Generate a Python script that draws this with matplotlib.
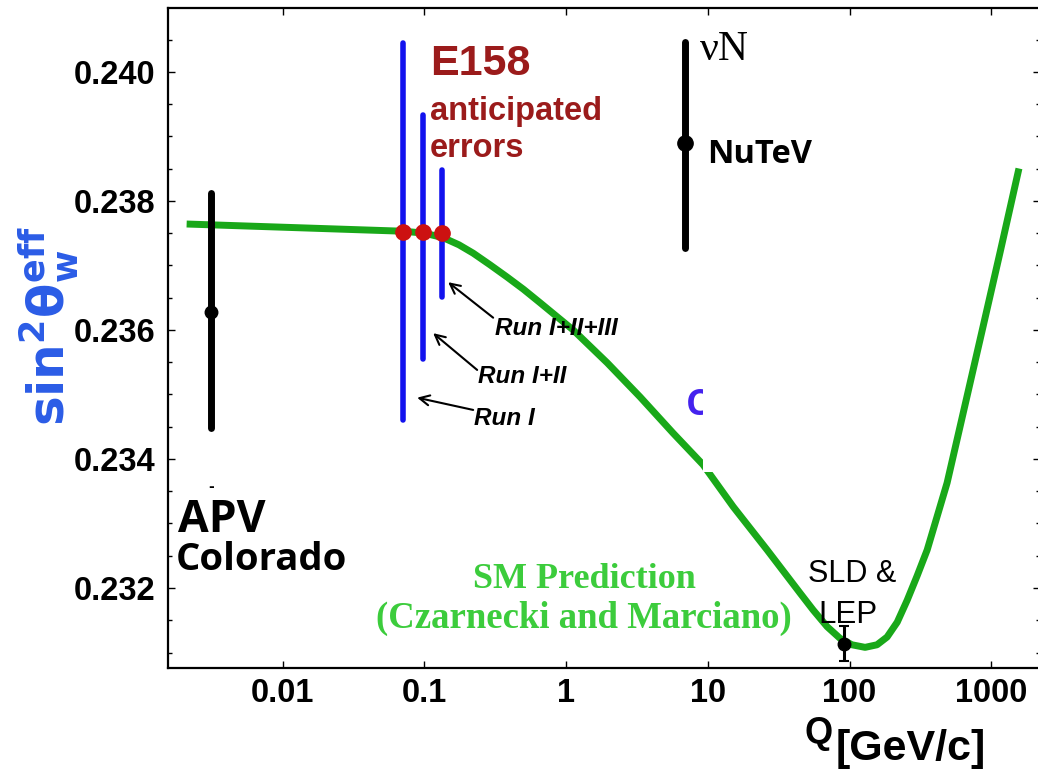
"""
Running weak mixing angle vs Q with E158 anticipated errors.
"""

import matplotlib
matplotlib.use('Agg')
import matplotlib.pyplot as plt
from matplotlib.patches import Rectangle
from matplotlib.ticker import FixedLocator, MultipleLocator, NullLocator

# SM running prediction (Czarnecki and Marciano)
sm_q = [0.00222, 0.0708, 0.1, 0.1355, 0.175, 0.2207, 0.29, 0.383, 0.5, 0.656,
        1.12, 1.95, 3.33, 5.69, 9.26, 15.1, 26.2, 44.8, 55.3, 69.5, 85.6,
        103.9, 128.7, 156.3, 184, 217, 255, 300, 353, 488, 676, 877, 1156,
        1549]
sm_s2w = [0.23764, 0.23753, 0.23750, 0.23743, 0.23732, 0.23719, 0.23701,
          0.23682, 0.23663, 0.23642, 0.23600, 0.23549, 0.23496, 0.23440,
          0.23391, 0.23326, 0.23259, 0.23192, 0.23166, 0.23140, 0.23122,
          0.23112, 0.23108, 0.23112, 0.23124, 0.23147, 0.23181, 0.23219,
          0.23259, 0.23363, 0.23498, 0.23606, 0.23721, 0.23845]

# measurements: Q, central value, lower end, upper end
apv = (0.00314, 0.23628, 0.23448, 0.23812)
nutev = (6.88, 0.23890, 0.23727, 0.24047)
sld_lep = (91.2, 0.23113, 0.23087, 0.23141)

# E158 anticipated errors
e158_q = [0.0711, 0.0984, 0.134]
e158_val = [0.23752, 0.23752, 0.23750]
e158_lo = [0.23460, 0.23555, 0.23651]
e158_hi = [0.24045, 0.23933, 0.23848]
e158_runs = ['Run I', 'Run I+II', 'Run I+II+III']

x_ticks = [0.01, 0.1, 1, 10, 100, 1000]
x_ticklabels = ['0.01', '0.1', '1', '10', '100', '1000']
y_ticks = [0.232, 0.234, 0.236, 0.238, 0.240]

fig = plt.figure(figsize=(10.38, 7.72), dpi=100)
ax = fig.add_axes([168 / 1038, 1 - 668 / 772, (1039.5 - 168) / 1038, 660 / 772])
ax.set_xscale('log')
ax.set_xlim(0.00155, 2190)
ax.set_ylim(0.23076, 0.24099)

green = '#19a819'
ax.plot(sm_q, sm_s2w, color=green, lw=5, solid_joinstyle='round', zorder=2)

# white patch covering part of the curve, with a clipped blue letter under it
ax.text(7.0, 0.23468, 'C', color='#4422ee', fontsize=26, fontweight='bold',
        family='Open Sans', ha='left', va='baseline', zorder=3)
ax.add_patch(Rectangle((9.26, 0.2338), 358.7 - 9.26, 0.23557 - 0.2338,
                       facecolor='white', edgecolor='none', zorder=4))

# APV, NuTeV, SLD/LEP
ax.vlines(apv[0], apv[2], apv[3], color='black', lw=5, capstyle='round', zorder=5)
ax.plot(apv[0], apv[1], 'o', color='black', ms=9, zorder=6)
ax.vlines(nutev[0], nutev[2], nutev[3], color='black', lw=5, capstyle='round', zorder=5)
ax.plot(nutev[0], nutev[1], 'o', color='black', ms=11, zorder=6)
ax.errorbar(sld_lep[0], sld_lep[1],
            yerr=[[sld_lep[1] - sld_lep[2]], [sld_lep[3] - sld_lep[1]]],
            fmt='o', color='black', ms=9, elinewidth=2.2, capsize=3.5,
            capthick=1.5, zorder=6)

# E158 bars and dots
ax.vlines(e158_q, e158_lo, e158_hi, color='#1212ee', lw=4, capstyle='round', zorder=5)
ax.plot(e158_q, e158_val, 'o', color='#cc1111', ms=11, zorder=6)

dark_red = '#9b1b1b'
ax.text(0.1097, 0.23995, 'E158', color=dark_red, fontsize=31, fontweight='bold',
        family='Liberation Sans', ha='left', va='baseline')
ax.text(0.1097, 0.23926, 'anticipated', color=dark_red, fontsize=23.5,
        fontweight='bold', family='Liberation Sans', ha='left', va='baseline')
ax.text(0.1097, 0.23868, 'errors', color=dark_red, fontsize=23.5,
        fontweight='bold', family='Liberation Sans', ha='left', va='baseline')

# run labels with arrows
run_text = [(0.2243, 0.23453), (0.2393, 0.23518), (0.3155, 0.23592)]
run_tail = [(0.2207, 0.23476), (0.2355, 0.23538), (0.3054, 0.23619)]
run_head = [(0.0888, 0.23495), (0.1152, 0.23595), (0.147, 0.23674)]
for name, txt, tail, head in zip(e158_runs, run_text, run_tail, run_head):
    ax.text(txt[0], txt[1], name, fontsize=17.5, fontweight='bold', style='italic',
            family='Liberation Sans', ha='left', va='baseline', zorder=7)
    ax.annotate('', xy=head, xytext=tail,
                arrowprops=dict(arrowstyle='->', color='black', lw=1.5,
                                mutation_scale=18, shrinkA=0, shrinkB=0))

ax.text(8.83, 0.24019, 'νN', fontsize=30, family='Liberation Serif',
        ha='left', va='baseline')
ax.text(9.89, 0.23859, 'NuTeV', fontsize=23.5, fontweight='bold',
        family='Open Sans', ha='left', va='baseline')

ax.text(0.00314, 0.23357, '-', fontsize=10, fontweight='bold',
        ha='center', va='center')
ax.text(0.00183, 0.23287, 'APV', fontsize=32, fontweight='bold',
        family='Open Sans', ha='left', va='baseline')
ax.text(0.00177, 0.23228, 'Colorado', fontsize=27.5, fontweight='bold',
        family='Open Sans', ha='left', va='baseline')

ax.text(104, 0.23209, 'SLD &', fontsize=22, family='Liberation Sans',
        ha='center', va='baseline', zorder=7)
ax.text(97.9, 0.23146, 'LEP', fontsize=22.5, family='Liberation Sans',
        ha='center', va='baseline', zorder=7)

sm_green = '#3ccc3c'
ax.text(1.34, 0.2320, 'SM Prediction', fontsize=26, fontweight='bold',
        family='Liberation Serif', color=sm_green, ha='center', va='baseline')
ax.text(1.34, 0.23138, '(Czarnecki and Marciano)', fontsize=26.5,
        fontweight='bold', family='Liberation Serif', color=sm_green,
        ha='center', va='baseline')

# axes styling
for s in ax.spines.values():
    s.set_linewidth(1.6)
ax.xaxis.set_major_locator(FixedLocator(x_ticks))
ax.xaxis.set_minor_locator(NullLocator())
ax.set_xticklabels(x_ticklabels)
ax.yaxis.set_major_locator(FixedLocator(y_ticks))
ax.yaxis.set_minor_locator(MultipleLocator(0.0005))
ax.set_yticklabels([f'{v:.3f}' for v in y_ticks])
ax.tick_params(which='both', direction='in', top=True, right=True, width=1)
ax.tick_params(which='major', length=5)
ax.tick_params(which='minor', length=3)
ax.tick_params(axis='y', pad=9)
ax.tick_params(axis='x', pad=7)
for lab in ax.get_xticklabels() + ax.get_yticklabels():
    lab.set_fontsize(23.5)
    lab.set_fontweight('bold')
    lab.set_family('Liberation Sans')

# axis labels
plt.rcParams['mathtext.fontset'] = 'dejavusans'
fig.text(0.047, 0.578, r'$\mathbf{sin^{2}\theta_{w}^{eff}}$', color='#2b5ce6',
         fontsize=36, rotation=90, ha='center', va='center')
fig.text(805 / 1038, 1 - 743 / 772, 'Q', fontsize=26, fontweight='bold',
         family='Liberation Sans', ha='left', va='baseline')
fig.text(836 / 1038, 1 - 760 / 772, '[GeV/c]', fontsize=31, fontweight='bold',
         family='Liberation Sans', ha='left', va='baseline')

plt.savefig('out.png', dpi=100)
plt.close()
